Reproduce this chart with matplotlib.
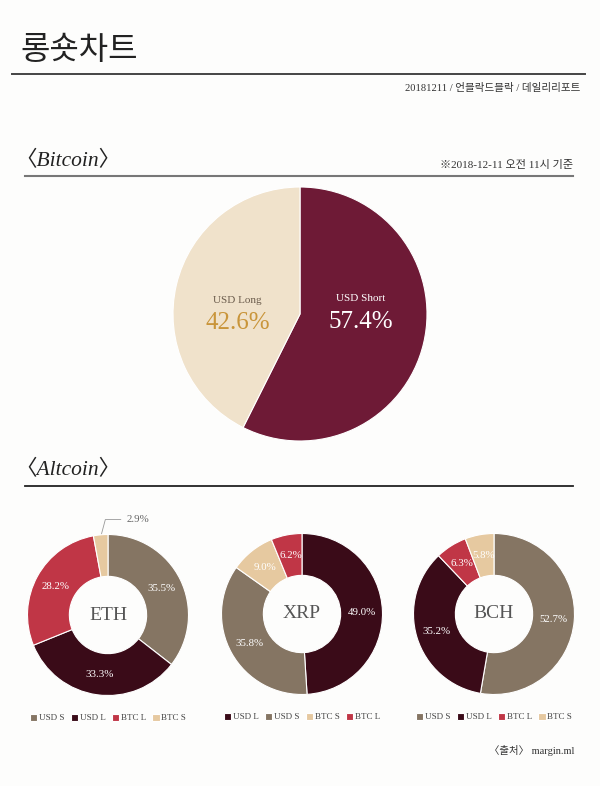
import numpy as np
import matplotlib.pyplot as plt

W, H = 600, 786
SERIF = ['Liberation Serif', 'Noto Sans CJK KR']
KR = ['Noto Sans CJK KR', 'DejaVu Sans']

# bitcoin
btc_labels = ["USD Short", "USD Long"]
btc_values = [57.4, 42.6]
btc_colors = ["#6e1a36", "#f0e2cb"]

# altcoins
coins = ["ETH", "XRP", "BCH"]
alt_labels = [
    ["USD S", "USD L", "BTC L", "BTC S"],
    ["USD L", "USD S", "BTC S", "BTC L"],
    ["USD S", "USD L", "BTC L", "BTC S"],
]
alt_values = [
    [35.5, 33.3, 28.2, 2.9],
    [49.0, 35.8, 9.0, 6.2],
    [52.7, 35.2, 6.3, 5.8],
]
cat_colors = {"USD S": "#857563", "USD L": "#3a0b18", "BTC L": "#c03646", "BTC S": "#e6c9a0"}

fig = plt.figure(figsize=(W / 100, H / 100), dpi=100)
fig.patch.set_facecolor("#fdfdfc")


def px_axes(cx, cy, r):
    return fig.add_axes([(cx - r) / W, (H - cy - r) / H, 2 * r / W, 2 * r / H])


def fx(x):
    return x / W


def fy(y):
    return 1 - y / H


# header
fig.text(fx(20), fy(50), "롱숏차트", family=KR, fontsize=23, color="#222", va="center", ha="left")
fig.add_artist(plt.Line2D([fx(12), fx(585)], [fy(73.5), fy(73.5)], color="#444", lw=1.4))
fig.text(fx(580), fy(88), "20181211 / 언블락드블락 / 데일리리포트", family=SERIF, fontsize=7.6,
         color="#333", ha="right", va="center")

fig.text(fx(15), fy(161), "〈Bitcoin〉", family=SERIF, style="italic", fontsize=15.5, color="#222",
         ha="left", va="center")
fig.text(fx(573), fy(165), "※2018-12-11 오전 11시 기준", family=SERIF, fontsize=8, color="#333",
         ha="right", va="center")
fig.add_artist(plt.Line2D([fx(25), fx(573)], [fy(176), fy(176)], color="#777", lw=1.5))

# bitcoin pie
ax = px_axes(300, 314, 127)
ax.pie(btc_values, colors=btc_colors, startangle=90, counterclock=False,
       wedgeprops=dict(edgecolor="white", linewidth=0.8))
ax.set_xlim(-1, 1)
ax.set_ylim(-1, 1)
ax.set_aspect("equal")
ax.axis("off")
ax.text(0.48, 0.12, btc_labels[0], family=SERIF, fontsize=8, color="white", ha="center", va="center")
ax.text(0.48, -0.06, f"{btc_values[0]}%", family=SERIF, fontsize=18, color="white", ha="center", va="center")
ax.text(-0.49, 0.11, btc_labels[1], family=SERIF, fontsize=8, color="#6b5c4c", ha="center", va="center")
ax.text(-0.49, -0.07, f"{btc_values[1]}%", family=SERIF, fontsize=18, color="#c9953a", ha="center", va="center")

# altcoin header
fig.text(fx(15), fy(470), "〈Altcoin〉", family=SERIF, style="italic", fontsize=15.5, color="#222",
         ha="left", va="center")
fig.add_artist(plt.Line2D([fx(25), fx(573)], [fy(486), fy(486)], color="#222", lw=1.3))

centers = [(108, 615), (302, 614), (494, 614)]
for coin, labels, values, (cx, cy) in zip(coins, alt_labels, alt_values, centers):
    ax = px_axes(cx, cy, 80.5)
    wedges, _ = ax.pie(values, colors=[cat_colors[l] for l in labels], startangle=90,
                       counterclock=False, radius=1,
                       wedgeprops=dict(width=0.52, edgecolor="white", linewidth=0.8))
    ax.set_xlim(-1, 1)
    ax.set_ylim(-1, 1)
    ax.set_aspect("equal")
    ax.axis("off")
    ax.text(0, 0, coin, family=SERIF, fontsize=14, color="#555", ha="center", va="center")
    for w, v in zip(wedges, values):
        ang = np.deg2rad((w.theta1 + w.theta2) / 2)
        if v < 4:
            x0, y0 = np.cos(ang), np.sin(ang)
            ax.annotate(f"{v}%", xy=(x0 * 0.98, y0 * 0.98), xytext=(x0 + 0.32, y0 + 0.19),
                        family=SERIF, fontsize=7.8, color="#666", ha="left", va="center",
                        arrowprops=dict(arrowstyle="-", color="#999", lw=0.6,
                                        connectionstyle="angle,angleA=0,angleB=75,rad=0"),
                        annotation_clip=False)
        else:
            ax.text(0.745 * np.cos(ang), 0.745 * np.sin(ang), f"{v}%", family=SERIF,
                    fontsize=7.8, color="white", ha="center", va="center")
    ax.legend(wedges, labels, loc="center", bbox_to_anchor=(0.5, -0.14), ncol=4, frameon=False,
              prop=dict(family=SERIF, size=6.5), handlelength=0.8, handleheight=0.8,
              handletextpad=0.2, columnspacing=0.7, labelcolor="#444")

fig.text(fx(574), fy(750), "〈출처〉 margin.ml", family=SERIF, fontsize=7.5, color="#333",
         ha="right", va="center")

fig.savefig("out.png", dpi=100, facecolor=fig.get_facecolor())
